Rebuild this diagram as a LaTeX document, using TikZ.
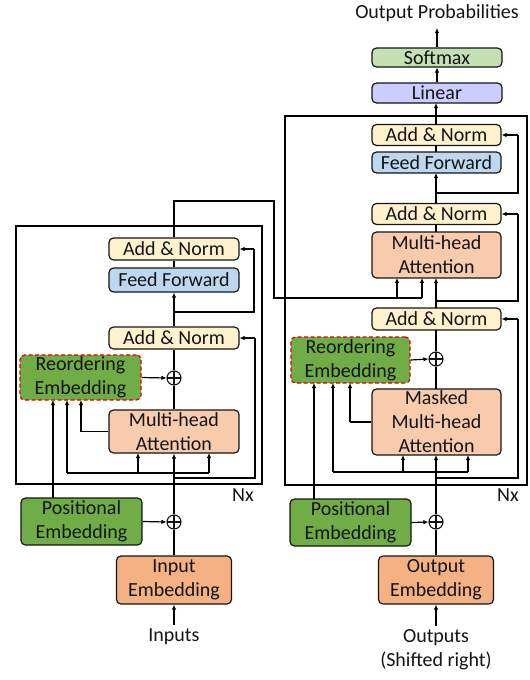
\documentclass[tikz,border=0pt]{standalone}
\usepackage{fontspec}
\setmainfont{Carlito}
\usetikzlibrary{arrows.meta}
\definecolor{anC}{HTML}{FFF2CC}
\definecolor{ffC}{HTML}{BDD7EE}
\definecolor{mhC}{HTML}{F8CBAD}
\definecolor{emC}{HTML}{F4B183}
\definecolor{grC}{HTML}{70AD47}
\definecolor{smC}{HTML}{C5E0B4}
\definecolor{liC}{HTML}{CCCCFF}
\definecolor{txC}{HTML}{141414}
\tikzset{
  blk/.style={draw=txC, line width=1.2pt, rounded corners=4.5pt, inner sep=0pt, align=center, text=txC,
    font=\fontsize{20}{24}\selectfont},
  reord/.style={blk, draw=red!85!black, dashed, dash pattern=on 4pt off 2.5pt, fill=grC},
  plus/.style={draw=txC, line width=1.1pt, circle, minimum size=14pt, inner sep=0pt,
    path picture={\draw[txC, line width=1.1pt] (path picture bounding box.north) -- (path picture bounding box.south) (path picture bounding box.west) -- (path picture bounding box.east);}},
  lbl/.style={inner sep=0pt, text=txC, font=\fontsize{20}{24}\selectfont, align=center},
  ln/.style={draw=black, line width=1.2pt},
  ar/.style={ln, -{Latex[length=5pt,width=4.5pt]}},
  frame/.style={draw=black, line width=1.3pt}
}
\begin{document}
\begin{tikzpicture}[x=1pt,y=-1pt]
\useasboundingbox (0,0) rectangle (530,680);
% frames
\draw[frame] (16,226) rectangle (262,484);
\draw[frame] (285,116) rectangle (527,485);
\node[lbl] (nxL) at (243,495) {Nx};
\node[lbl] (nxR) at (508,495) {Nx};
% encoder
\node[blk, fill=anC, minimum width=130pt, minimum height=22pt] (eAN2) at (174,249) {Add \& Norm};
\node[blk, fill=ffC, minimum width=130pt, minimum height=24pt] (eFF) at (174,280) {Feed Forward};
\node[blk, fill=anC, minimum width=130pt, minimum height=22pt] (eAN1) at (174,338) {Add \& Norm};
\node[reord, minimum width=121pt, minimum height=45pt] (eRE) at (80.5,377.5) {Reordering\\Embedding};
\node[plus] (ePlus) at (174,378) {};
\node[blk, fill=mhC, minimum width=130pt, minimum height=43pt] (eMHA) at (174,431.5) {Multi-head\\Attention};
\node[blk, fill=grC, minimum width=121pt, minimum height=47pt] (ePE) at (81.5,521.5) {Positional\\Embedding};
\node[plus] (ePlus2) at (174,522) {};
\node[blk, fill=emC, minimum width=115pt, minimum height=48pt] (eIE) at (174,580) {Input\\Embedding};
\node[lbl] (inp) at (174,637) {Inputs};
\coordinate (inpT) at (174,625);
% decoder
\node[blk, fill=smC, minimum width=130pt, minimum height=19pt] (sm) at (437,57.5) {Softmax};
\node[blk, fill=liC, minimum width=130pt, minimum height=20pt] (lin) at (437,93) {Linear};
\node[lbl] (op) at (437,13) {Output Probabilities};
\coordinate (opB) at (437,28);
\node[blk, fill=anC, minimum width=129pt, minimum height=21pt] (dAN3) at (436.5,135) {Add \& Norm};
\node[blk, fill=ffC, minimum width=129pt, minimum height=21pt] (dFF) at (436.5,162.5) {Feed Forward};
\node[blk, fill=anC, minimum width=129pt, minimum height=21pt] (dAN2) at (436.5,214) {Add \& Norm};
\node[blk, fill=mhC, minimum width=129pt, minimum height=46pt] (dMHA) at (436.5,255) {Multi-head\\Attention};
\node[blk, fill=anC, minimum width=129pt, minimum height=22pt] (dAN1) at (436.5,319) {Add \& Norm};
\node[reord, minimum width=119pt, minimum height=46pt] (dRE) at (350.5,360) {Reordering\\Embedding};
\node[plus] (dPlus) at (436,359) {};
\node[blk, fill=mhC, minimum width=129pt, minimum height=66pt] (dMM) at (436.5,422) {Masked\\Multi-head\\Attention};
\node[blk, fill=grC, minimum width=121pt, minimum height=47pt] (dPE) at (350.5,522.5) {Positional\\Embedding};
\node[plus] (dPlus2) at (436,522) {};
\node[blk, fill=emC, minimum width=115pt, minimum height=48pt] (dOE) at (436,580) {Output\\Embedding};
\node[lbl] (outp) at (436,650) {Outputs\\(Shifted right)};
\coordinate (outT) at (436,626);
% ---------- encoder connectors
\draw[ar] (inpT) -- (eIE.south);
\draw[ln] (eIE.north) -- (ePlus2.south);
\draw[ar] (ePE.east) -- (ePlus2.west);
\draw[ar] (ePlus2.north) -- (eMHA.south);
\draw[ln] (174,478) -- (255,478) -- (255,338);
\draw[ar] (255,338) -- (eAN1.east);
\draw[ln] (67,473) -- (209,473);
\draw[ar] (138,473) -- (138,453);
\draw[ar] (209,473) -- (209,453);
\draw[ar] (67,473) -- (67,400);
\draw[ln] (eMHA.west) -- (81,431.5);
\draw[ar] (81,431.5) -- (81,400);
\draw[ar] (53,498) -- (53,400);
\draw[ar] (eRE.east) -- (ePlus.west);
\draw[ln] (eMHA.north) -- (ePlus.south);
\draw[ln] (ePlus.north) -- (eAN1.south);
\draw[ar] (eAN1.north) -- (eFF.south);
\draw[ln] (174,312) -- (254,312) -- (254,249);
\draw[ar] (254,249) -- (eAN2.east);
\draw[ln] (eFF.north) -- (eAN2.south);
\draw[ln] (eAN2.north) -- (174,201) -- (274,201) -- (274,298) -- (422,298);
\draw[ar] (397,298) -- (397,277.9);
\draw[ar] (422,298) -- (422,277.9);
% ---------- decoder connectors
\draw[ar] (outT) -- (dOE.south);
\draw[ln] (dOE.north) -- (dPlus2.south);
\draw[ar] (dPE.east) -- (dPlus2.west);
\draw[ar] (dPlus2.north) -- (436,455);
\draw[ln] (436,478) -- (518,478) -- (518,319);
\draw[ar] (518,319) -- (dAN1.east);
\draw[ln] (333,472) -- (468,472);
\draw[ar] (403,472) -- (403,455);
\draw[ar] (468,472) -- (468,455);
\draw[ar] (333,472) -- (333,383);
\draw[ln] (dMM.west) -- (350,422);
\draw[ar] (350,422) -- (350,383);
\draw[ar] (314,499) -- (314,383);
\draw[ar] (dRE.east) -- (dPlus.west);
\draw[ln] (436,389) -- (dPlus.south);
\draw[ln] (dPlus.north) -- (436,330);
\draw[ar] (436,308) -- (436,278);
\draw[ln] (436,301) -- (518,301) -- (518,214);
\draw[ar] (518,214) -- (dAN2.east);
\draw[ln] (436,232) -- (436,224.5);
\draw[ar] (436,203.5) -- (436,173);
\draw[ln] (436,193) -- (518,193) -- (518,135);
\draw[ar] (518,135) -- (dAN3.east);
\draw[ln] (436,152) -- (436,145.5);
\draw[ar] (436,124.5) -- (436,103);
\draw[ar] (lin.north) -- (sm.south);
\draw[ar] (sm.north) -- (opB);
\end{tikzpicture}
\end{document}
